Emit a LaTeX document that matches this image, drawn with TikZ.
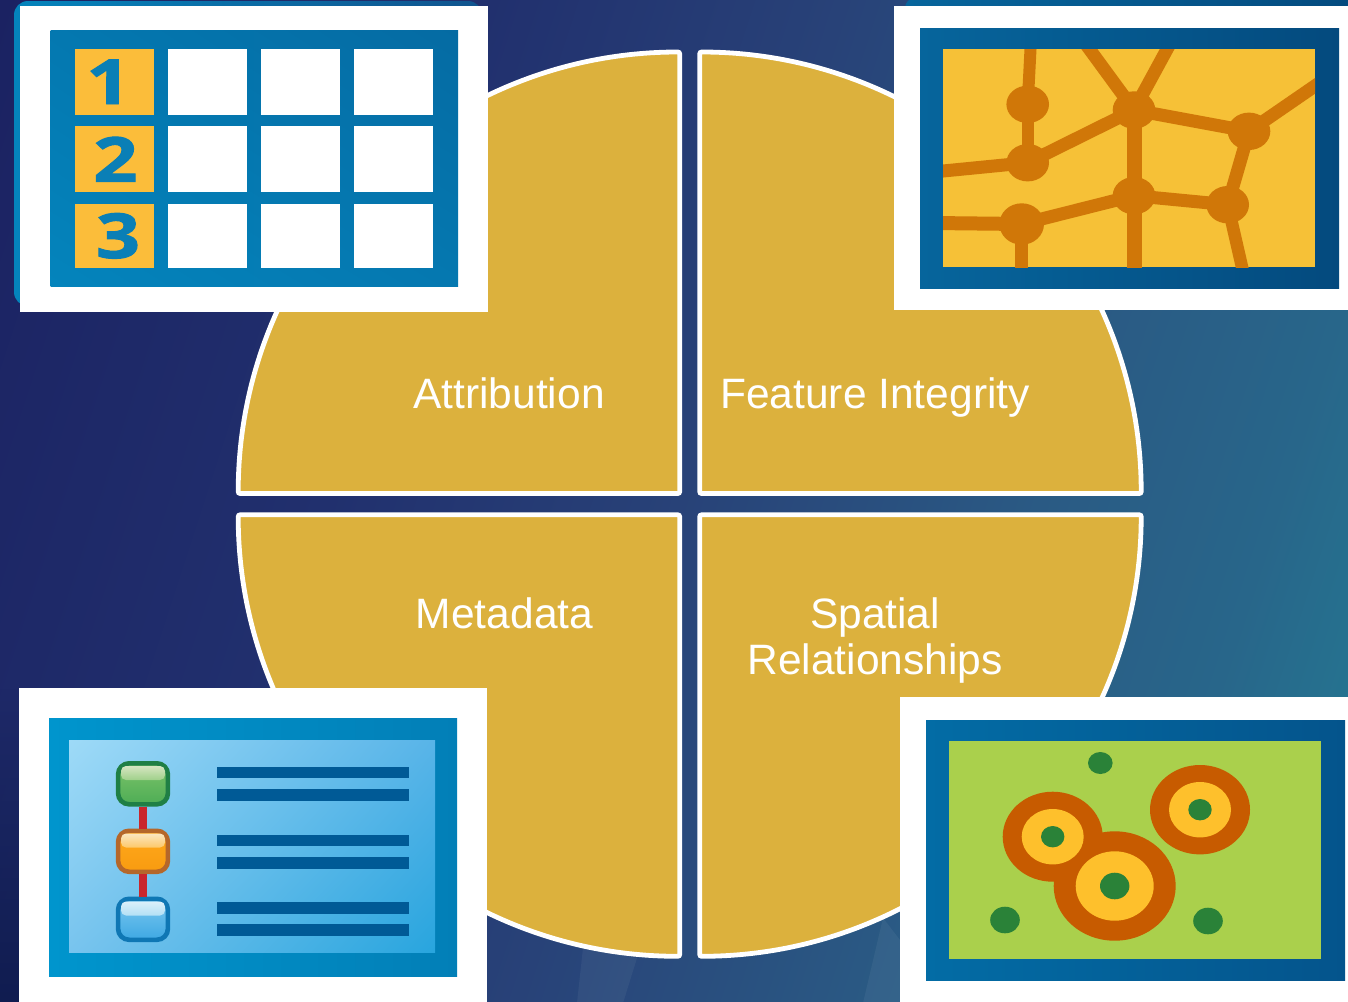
\documentclass[tikz,border=0pt]{standalone}
\usepackage{fontspec}
\setmainfont{Liberation Sans}
\newfontfamily\numfont[FakeStretch=1.25,BoldFeatures={FakeBold=1.6}]{Open Sans}
\usetikzlibrary{shapes.geometric,shadings,fadings}
\definecolor{pie}{HTML}{DCB13D}
\definecolor{numcell}{HTML}{FBBD3A}
\definecolor{netyel}{HTML}{F6C137}
\definecolor{netorg}{HTML}{D07708}
\definecolor{lime}{HTML}{AAD04C}
\definecolor{dotgreen}{HTML}{2A8238}
\definecolor{ringorg}{HTML}{C75B00}
\definecolor{ringyel}{HTML}{FEC02C}
\definecolor{linebar}{HTML}{005A96}
\definecolor{bga}{RGB}{27,34,98}
\definecolor{bgb}{RGB}{33,48,110}
\definecolor{bgc}{RGB}{40,66,120}
\definecolor{bgd}{RGB}{42,90,132}
\definecolor{bge}{RGB}{40,102,138}
\definecolor{bgf}{RGB}{35,124,148}
\definecolor{bgdark}{RGB}{16,28,80}
\definecolor{tlA}{HTML}{0478B0}
\definecolor{tlB}{HTML}{056BA3}
\definecolor{tlC}{HTML}{0484BC}
\definecolor{tlD}{HTML}{0578B0}
\definecolor{tpL}{HTML}{06659C}
\definecolor{tpR}{HTML}{044A7E}
\definecolor{blL}{HTML}{0095CD}
\definecolor{blR}{HTML}{027FB7}
\definecolor{brL}{HTML}{036CA5}
\definecolor{brR}{HTML}{04548C}
\definecolor{digitblue}{HTML}{0A7FB6}
\definecolor{wirered}{HTML}{C9262C}
\definecolor{skyUL}{HTML}{9EDAF7}
\definecolor{skyUR}{HTML}{58B4E8}
\definecolor{skyLL}{HTML}{78C4EE}
\definecolor{skyLR}{HTML}{28A5DE}
\definecolor{gnEdge}{HTML}{1F7F45}
\definecolor{orEdge}{HTML}{B5672A}
\definecolor{buEdge}{HTML}{0F77B4}
\definecolor{gnTop}{HTML}{D5E5C0}
\definecolor{gnMid}{HTML}{9FD08A}
\definecolor{gnBody}{HTML}{7CC36A}
\definecolor{gnLow}{HTML}{4EAD55}
\definecolor{orTop}{HTML}{FBE6C0}
\definecolor{orMid}{HTML}{FDC96A}
\definecolor{orBody}{HTML}{FFA91C}
\definecolor{orLow}{HTML}{F89B10}
\definecolor{buTop}{HTML}{DBF0FA}
\definecolor{buMid}{HTML}{B3E0F5}
\definecolor{buBody}{HTML}{7CC8EF}
\definecolor{buLow}{HTML}{3EA8E3}
\pgfdeclarehorizontalshading{bgshade}{100bp}{
 color(0bp)=(bga);
 color(25bp)=(bga);
 color(39.7bp)=(bgb);
 color(50.2bp)=(bgc);
 color(60.9bp)=(bgd);
 color(68bp)=(bge);
 color(75bp)=(bgf);
 color(100bp)=(bgf)}
\tikzset{
 quad/.style={fill=pie,draw=white,line width=4.8pt,rounded corners=2pt},
 lab/.style={text=white,font=\fontsize{42.5}{46}\selectfont,inner sep=0pt},
 frame/.style={fill=white},
 cellw/.style={fill=white},
 cellc/.style={fill=numcell},
 digit/.style={text=digitblue,font=\numfont\bfseries\fontsize{62}{62}\selectfont,inner sep=0pt,anchor=base},
 netedge/.style={draw=netorg,line width=13pt},
 netnode/.style={ellipse,fill=netorg,inner sep=0pt,minimum width=42.6pt,minimum height=37.4pt},
 bar/.style={fill=linebar},
 btn/.style={rectangle,rounded corners=11pt,line width=4.6pt,inner sep=0pt,minimum width=49.8pt,minimum height=41pt},
 glare/.style={rounded corners=5pt},
 wire/.style={draw=wirered,line width=8.5pt},
 spot/.style={fill=dotgreen},
}
\begin{document}
\begin{tikzpicture}[x=1pt,y=1pt,yscale=-1]
\useasboundingbox (0,0) rectangle (1348,1001);
% background
\begin{scope}
\clip (0,0) rectangle (1350,1003);
\shade[shading=bgshade,shading angle=-18] (-126,-300) rectangle (1474,1300);
\fill[white,opacity=.05] (583,948) -- (577,1003) -- (623,1003) -- (637,958) -- cycle;
\fill[white,opacity=.05] (863,1003) -- (883,918) -- (900,940) -- (900,1003) -- cycle;
\fill[bgdark,path fading=north] (0,688) rectangle (19,1003);
% backing plates
\shade[left color=tlC,right color=tlB!60!bgb,rounded corners=14pt] (14,1) rectangle (482,306);
\shade[left color=tpL,right color=tpR,rounded corners=10pt] (905,-2) rectangle (1360,40);
\end{scope}
% quadrants
\path[quad] (679.7,493.5) -- (238.2,493.5) arc[start angle=180,end angle=270,radius=441.5pt] -- cycle;
\path[quad] (699.7,493.5) -- (699.7,52) arc[start angle=270,end angle=360,radius=441.5pt] -- cycle;
\path[quad] (679.7,514.8) -- (679.7,956.3) arc[start angle=90,end angle=180,radius=441.5pt] -- cycle;
\path[quad] (699.7,514.8) -- (1141.2,514.8) arc[start angle=0,end angle=90,radius=441.5pt] -- cycle;
% labels
\node[lab,anchor=base] (attr) at (509,408) {Attribution};
\node[lab,anchor=base] (feat) at (875,408) {Feature Integrity};
\node[lab,anchor=base] (meta) at (504.5,628) {Metadata};
\node[lab,anchor=base] (spat) at (875,628) {Spatial};
\node[lab,anchor=base] (rela) at (875,674) {Relationships};
% top left icon
\fill[frame] (20,6) rectangle (488,312);
\shade[upper left=tlA,upper right=tlB,lower left=tlC,lower right=tlD] (50.5,30) rectangle (458,286);
\foreach \cx/\cw in {168/79,260.5/79.5,353.5/79.5}{
 \foreach \cy/\ch in {48.5/66.5,126/66,204/64}{
  \fill[cellw] (\cx,\cy) rectangle ++(\cw,\ch);
 }
}
\fill[cellc] (75,48.5) rectangle (154,115);
\fill[cellc] (75,126) rectangle (154,192);
\fill[cellc] (75,204) rectangle (154,268);
\node[digit] (n1) at (108.5,104) {1};
\node[digit] (n2) at (115.5,181.7) {2};
\node[digit] (n3) at (118,258) {3};
% top right icon
\fill[frame] (894,6) rectangle (1350,310);
\shade[left color=tpL,right color=tpR] (920,28.5) rectangle (1339,288);
\fill[netyel] (943,49) rectangle (1315,267);
\begin{scope}
\clip (943,49) rectangle (1315,267);
\node[netnode] (A) at (1027.7,104.3) {};
\node[netnode] (B) at (1027.7,162.7) {};
\node[netnode] (C) at (1134,110) {};
\node[netnode] (D) at (1249,131.3) {};
\node[netnode] (E) at (1134,195.7) {};
\node[netnode] (F) at (1227.7,204.7) {};
\node[netnode,minimum width=44.6pt,minimum height=41.4pt] (G) at (1021.7,224) {};
\coordinate (e1) at (1031,39);
\coordinate (e2) at (1082,39);
\coordinate (e3) at (1172.6,39);
\coordinate (e4) at (1325,79);
\coordinate (e5) at (933,172);
\coordinate (e6) at (933,223);
\coordinate (e7) at (1021.7,277);
\coordinate (e8) at (1134,277);
\coordinate (e9) at (1244.3,277);
\draw[netedge,line width=12pt] (A.center) -- (e1);
\draw[netedge,line width=12pt] (A.center) -- (B.center);
\draw[netedge] (B.center) -- (e5);
\draw[netedge] (B.center) -- (C.center);
\draw[netedge] (C.center) -- (e2);
\draw[netedge] (C.center) -- (e3);
\draw[netedge] (C.center) -- (D.center);
\draw[netedge] (D.center) -- (e4);
\draw[netedge,line width=15pt] (C.center) -- (E.center);
\draw[netedge] (D.center) -- (F.center);
\draw[netedge] (E.center) -- (F.center);
\draw[netedge] (E.center) -- (G.center);
\draw[netedge,line width=14pt] (G.center) -- (e6);
\draw[netedge,line width=12.5pt] (G.center) -- (e7);
\draw[netedge,line width=15pt] (E.center) -- (e8);
\draw[netedge,line width=12.5pt] (F.center) -- (e9);
\end{scope}
% bottom left icon
\fill[frame] (19,688) rectangle (487,1003);
\shade[left color=blL,right color=blR] (49,718) rectangle (457,976);
\shade[upper left=skyUL,upper right=skyUR,lower left=skyLL,lower right=skyLR] (69,740) rectangle (435,952);
\foreach \ly in {766.7,789,834.7,857,902,924.3}{
 \fill[bar] (216.5,\ly) rectangle ++(192.5,11.5);
}
\node[btn,draw=gnEdge,top color=gnBody,bottom color=gnLow] (g) at (143,783.8) {};
\node[btn,draw=orEdge,top color=orBody,bottom color=orLow] (o) at (143,851.3) {};
\node[btn,draw=buEdge,top color=buBody,bottom color=buLow] (b) at (143,919.3) {};
\draw[wire] (g) -- (o);
\draw[wire] (o) -- (b);
\shade[glare,top color=gnTop,bottom color=gnMid] (121,766) rectangle (165,780);
\shade[glare,top color=orTop,bottom color=orMid] (121,833.5) rectangle (165,847.5);
\shade[glare,top color=buTop,bottom color=buMid] (121,901.5) rectangle (165,915.5);
% bottom right icon
\fill[frame] (900,697) rectangle (1350,1003);
\shade[left color=brL,right color=brR] (926,720) rectangle (1345,980);
\fill[lime] (949,741) rectangle (1321,959);
\fill[spot] (1100.3,763) ellipse[x radius=12.3pt,y radius=11pt];
\fill[spot] (1005,920) ellipse[x radius=14.8pt,y radius=13.3pt];
\fill[spot] (1208,921) ellipse[x radius=14.8pt,y radius=13.3pt];
\fill[ringorg] (1052.7,836.7) ellipse[x radius=50pt,y radius=45pt];
\fill[ringorg] (1200,809.7) ellipse[x radius=50pt,y radius=44.7pt];
\fill[ringorg] (1114.7,886) ellipse[x radius=61pt,y radius=54.7pt];
\fill[ringyel] (1052.7,836.7) ellipse[x radius=31pt,y radius=27.7pt];
\fill[ringyel] (1200,809.7) ellipse[x radius=31pt,y radius=27.7pt];
\fill[ringyel] (1114.7,886) ellipse[x radius=39pt,y radius=34.7pt];
\fill[spot] (1052.7,836.7) ellipse[x radius=11.7pt,y radius=10.7pt];
\fill[spot] (1200,809.7) ellipse[x radius=11.7pt,y radius=10.7pt];
\fill[spot] (1114.7,886) ellipse[x radius=14.7pt,y radius=13.3pt];
\end{tikzpicture}
\end{document}
